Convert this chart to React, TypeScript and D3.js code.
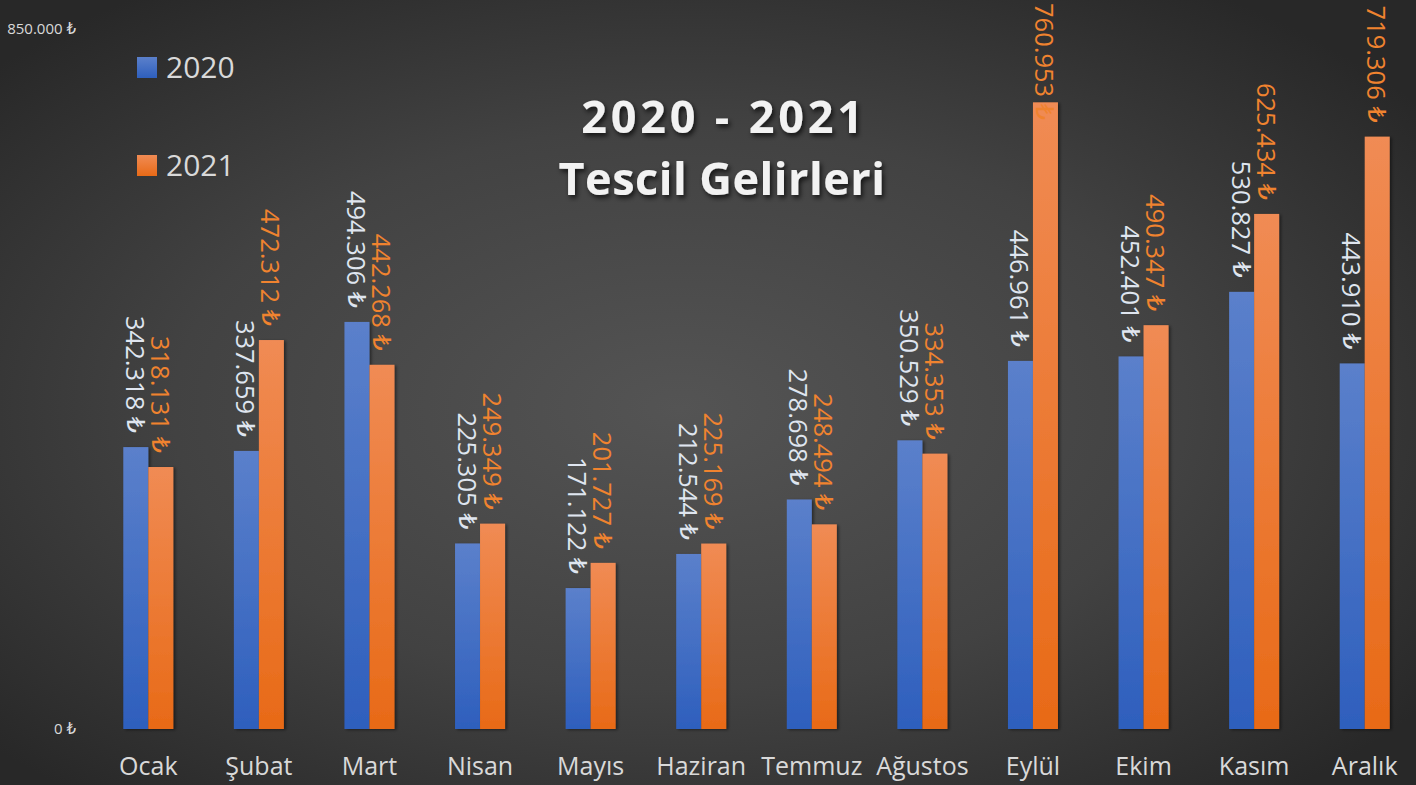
import React, { useEffect, useRef } from "react";
import * as d3 from "d3";

const months = ["Ocak", "Şubat", "Mart", "Nisan", "Mayıs", "Haziran", "Temmuz", "Ağustos", "Eylül", "Ekim", "Kasım", "Aralık"];
const seriesNames = ["2020", "2021"];
const values2020 = [342318, 337659, 494306, 225305, 171122, 212544, 278698, 350529, 446961, 452401, 530827, 443910];
const values2021 = [318131, 472312, 442268, 249349, 201727, 225169, 248494, 334353, 760953, 490347, 625434, 719306];
const yTicks = [0, 850000];
const titleLines = ["2020 - 2021", "Tescil Gelirleri"];

const W = 1416;
const H = 785;

export default function App() {
  const ref = useRef<SVGSVGElement | null>(null);

  useEffect(() => {
    const svg = d3.select(ref.current);
    svg.selectAll("*").remove();

    const locale = d3.formatLocale({ decimal: ",", thousands: ".", grouping: [3], currency: ["", ""] });
    const num = (v: number) => locale.format(",.0f")(v);
    const font = "'Open Sans', 'DejaVu Sans', sans-serif";
    const liraFont = "'DejaVu Sans', sans-serif";

    const addMoney = (t: d3.Selection<SVGTextElement, any, any, any>, v: number) => {
      t.append("tspan").text(num(v) + " ");
      t.append("tspan").attr("font-family", liraFont).text("₺");
    };

    const defs = svg.append("defs");
    const bg = defs.append("radialGradient").attr("id", "bg").attr("cx", "48%").attr("cy", "52%").attr("r", "65%");
    bg.append("stop").attr("offset", "0%").attr("stop-color", "#545454");
    bg.append("stop").attr("offset", "55%").attr("stop-color", "#424242");
    bg.append("stop").attr("offset", "100%").attr("stop-color", "#282828");

    const gBlue = defs.append("linearGradient").attr("id", "gBlue").attr("x1", 0).attr("y1", 0).attr("x2", 0).attr("y2", 1);
    gBlue.append("stop").attr("offset", "0%").attr("stop-color", "#5b80cb");
    gBlue.append("stop").attr("offset", "100%").attr("stop-color", "#2e5fbd");
    const gOrange = defs.append("linearGradient").attr("id", "gOrange").attr("x1", 0).attr("y1", 0).attr("x2", 0).attr("y2", 1);
    gOrange.append("stop").attr("offset", "0%").attr("stop-color", "#f08b54");
    gOrange.append("stop").attr("offset", "100%").attr("stop-color", "#e86a17");

    const sh = defs.append("filter").attr("id", "barShadow").attr("x", "-20%").attr("y", "-5%").attr("width", "150%").attr("height", "115%");
    sh.append("feDropShadow").attr("dx", 2).attr("dy", 1).attr("stdDeviation", 1.5).attr("flood-color", "#000").attr("flood-opacity", 0.45);
    const tsh = defs.append("filter").attr("id", "titleShadow").attr("x", "-10%").attr("y", "-20%").attr("width", "130%").attr("height", "150%");
    tsh.append("feDropShadow").attr("dx", 2).attr("dy", 3).attr("stdDeviation", 2.5).attr("flood-color", "#000").attr("flood-opacity", 0.7);

    svg.append("rect").attr("width", W).attr("height", H).attr("fill", "url(#bg)");

    const x = d3.scaleBand<string>().domain(months).range([93, 1420]).paddingInner(0).paddingOuter(0);
    const y = d3.scaleLinear().domain([0, 850000]).range([729, 29]);
    const barW = 25;

    const series = [
      { name: seriesNames[0], values: values2020, fill: "url(#gBlue)", label: "#dfe5ef", off: -barW },
      { name: seriesNames[1], values: values2021, fill: "url(#gOrange)", label: "#f0832f", off: 0 },
    ];

    // y tick labels
    const yt = svg.append("g");
    yTicks.forEach((d) => {
      const t = yt.append("text")
        .attr("x", 76).attr("y", y(d)).attr("dy", "0.35em")
        .attr("text-anchor", "end").attr("font-family", font)
        .attr("font-size", 15).attr("fill", "#d9d9d9");
      addMoney(t, d);
    });

    // bars
    series.forEach((s) => {
      svg.append("g").attr("filter", "url(#barShadow)").selectAll("rect").data(months).join("rect")
        .attr("x", (m) => (x(m) as number) + x.bandwidth() / 2 + s.off)
        .attr("width", barW)
        .attr("y", (_m, i) => y(s.values[i]))
        .attr("height", (_m, i) => y(0) - y(s.values[i]))
        .attr("fill", s.fill);
    });

    // value labels (rotated)
    series.forEach((s) => {
      const g = svg.append("g");
      months.forEach((m, i) => {
        const cx = (x(m) as number) + x.bandwidth() / 2 + s.off + barW / 2;
        const t = g.append("text")
          .attr("font-family", font)
          .attr("font-size", 25.5).attr("fill", s.label)
          .attr("dominant-baseline", "central");
        addMoney(t, s.values[i]);
        const len = (t.node() as SVGTextElement).getComputedTextLength();
        const end = y(s.values[i]) - 14;
        let start = end - len;
        if (start < 3) start = 3;
        t.attr("text-anchor", "start").attr("transform", `translate(${cx},${start}) rotate(90)`);
      });
    });

    // x axis labels
    svg.append("g").selectAll("text").data(months).join("text")
      .attr("x", (m) => (x(m) as number) + x.bandwidth() / 2)
      .attr("y", 775).attr("text-anchor", "middle")
      .attr("font-family", font)
      .attr("font-size", 25).attr("fill", "#d9d9d9").text((m) => m);

    // legend
    const lg = svg.append("g");
    series.forEach((s, i) => {
      lg.append("rect").attr("x", 137).attr("y", 57 + i * 98).attr("width", 20).attr("height", 21).attr("fill", s.fill);
      lg.append("text").attr("x", 166).attr("y", 78 + i * 98)
        .attr("font-family", font)
        .attr("font-size", 30).attr("fill", "#d9d9d9").text(s.name);
    });

    // title
    const tg = svg.append("g").attr("filter", "url(#titleShadow)");
    tg.append("text").attr("x", 724).attr("y", 133).attr("text-anchor", "middle")
      .attr("font-family", font).attr("font-weight", 700)
      .attr("font-size", 45).attr("letter-spacing", 3.8).attr("fill", "#f2f2f2").text(titleLines[0]);
    tg.append("text").attr("x", 722).attr("y", 195).attr("text-anchor", "middle")
      .attr("font-family", font).attr("font-weight", 700)
      .attr("font-size", 45).attr("letter-spacing", 0.5).attr("fill", "#f2f2f2").text(titleLines[1]);
  }, []);

  return (
    <svg ref={ref} width={W} height={H} style={{ position: "absolute", left: 0, top: 0, display: "block" }} />
  );
}
